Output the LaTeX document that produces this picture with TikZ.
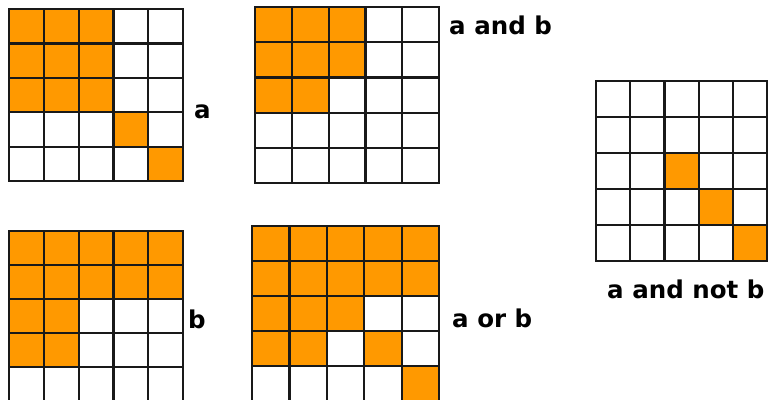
\documentclass[tikz,border=0pt]{standalone}
\usepackage{fontspec}
\setmainfont{DejaVu Sans}
\usepackage{tikz}
\definecolor{corange}{HTML}{FF9900}
\tikzset{
  cell/.style={fill=corange},
  gridline/.style={black!90, line width=2.2pt, line cap=rect},
  setlbl/.style={font=\fontsize{24.5}{29}\selectfont\bfseries, inner sep=0pt, anchor=base west},
}

\begin{document}
\begin{tikzpicture}[x=1pt,y=-1pt]

  \clip (0,0) rectangle (771,399);
  \fill[white] (0,0) rectangle (771,399);

  % a
  \begin{scope}[shift={(9,9)}, x=34.8pt, y=-34.4pt]
    \foreach \c/\r in {0/0,1/0,2/0,0/1,1/1,2/1,0/2,1/2,2/2,3/3,4/4}
      \fill[cell] (\c,\r) rectangle ++(1,1);
    \foreach \i in {0,...,5}{
      \draw[gridline] (\i,0) -- (\i,5);
      \draw[gridline] (0,\i) -- (5,\i);
    }
  \end{scope}

  % a and b
  \begin{scope}[shift={(255,7)}, x=36.8pt, y=-35.2pt]
    \foreach \c/\r in {0/0,1/0,2/0,0/1,1/1,2/1,0/2,1/2}
      \fill[cell] (\c,\r) rectangle ++(1,1);
    \foreach \i in {0,...,5}{
      \draw[gridline] (\i,0) -- (\i,5);
      \draw[gridline] (0,\i) -- (5,\i);
    }
  \end{scope}

  % b
  \begin{scope}[shift={(9,231)}, x=34.8pt, y=-34pt]
    \foreach \c/\r in {0/0,1/0,2/0,3/0,4/0,0/1,1/1,2/1,3/1,4/1,0/2,1/2,0/3,1/3}
      \fill[cell] (\c,\r) rectangle ++(1,1);
    \foreach \i in {0,...,5}{
      \draw[gridline] (\i,0) -- (\i,5);
      \draw[gridline] (0,\i) -- (5,\i);
    }
  \end{scope}

  % a or b
  \begin{scope}[shift={(252,226)}, x=37.4pt, y=-35pt]
    \foreach \c/\r in {0/0,1/0,2/0,3/0,4/0,0/1,1/1,2/1,3/1,4/1,0/2,1/2,2/2,0/3,1/3,3/3,4/4}
      \fill[cell] (\c,\r) rectangle ++(1,1);
    \foreach \i in {0,...,5}{
      \draw[gridline] (\i,0) -- (\i,5);
      \draw[gridline] (0,\i) -- (5,\i);
    }
  \end{scope}

  % a and not b
  \begin{scope}[shift={(596,81)}, x=34.2pt, y=-36pt]
    \foreach \c/\r in {2/2,3/3,4/4}
      \fill[cell] (\c,\r) rectangle ++(1,1);
    \foreach \i in {0,...,5}{
      \draw[gridline] (\i,0) -- (\i,5);
      \draw[gridline] (0,\i) -- (5,\i);
    }
  \end{scope}

  \node[setlbl] (la)     at (194,118) {a};
  \node[setlbl] (lab)    at (449,34)  {a and b};
  \node[setlbl] (lb)     at (188,328) {b};
  \node[setlbl] (laorb)  at (452,327) {a or b};
  \node[setlbl] (lanotb) at (607,298) {a and not b};

\end{tikzpicture}
\end{document}
